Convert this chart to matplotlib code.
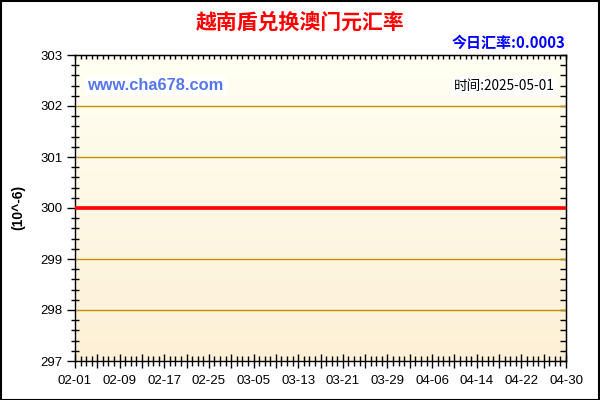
import matplotlib
matplotlib.use("Agg")
import matplotlib.pyplot as plt
import matplotlib.dates as mdates
from matplotlib.ticker import MultipleLocator, FixedLocator, FuncFormatter
import numpy as np
import pandas as pd

plt.rcParams['font.family'] = ['Liberation Sans', 'Noto Sans CJK SC', 'DejaVu Sans']

title = "越南盾兑换澳门元汇率"
rate_text = "今日汇率:0.0003"
site_text = "www.cha678.com"
time_text = "时间:2025-05-01"
ylabel = "(10^-6)"

start_date = "2025-02-01"
end_date = "2025-04-30"
values = [
    300, 300, 300, 300, 300, 300, 300, 300, 300, 300,
    300, 300, 300, 300, 300, 300, 300, 300, 300, 300,
    300, 300, 300, 300, 300, 300, 300, 300, 300, 300,
    300, 300, 300, 300, 300, 300, 300, 300, 300, 300,
    300, 300, 300, 300, 300, 300, 300, 300, 300, 300,
    300, 300, 300, 300, 300, 300, 300, 300, 300, 300,
    300, 300, 300, 300, 300, 300, 300, 300, 300, 300,
    300, 300, 300, 300, 300, 300, 300, 300, 300, 300,
    300, 300, 300, 300, 300, 300, 300, 300, 300,
]
y_ticks = [297, 298, 299, 300, 301, 302, 303]
grid_levels = [298, 299, 301, 302]

dates = pd.date_range(start_date, end_date, freq="D")

W, H = 600, 400
fig = plt.figure(figsize=(6, 4), dpi=100)
fig.patch.set_facecolor("white")
fig.add_artist(plt.Rectangle((0.5 / W, 0.5 / H), 1 - 1.5 / W, 1 - 1.5 / H,
                             transform=fig.transFigure, fill=False,
                             edgecolor="black", linewidth=1.5))

left, right, top, bottom = 75, 566, 55, 361
ax = fig.add_axes([left / W, 1 - bottom / H, (right - left) / W, (bottom - top) / H])

x0 = mdates.date2num(dates[0])
x1 = mdates.date2num(dates[-1])
ax.set_xlim(x0, x1)
ax.set_ylim(y_ticks[0], y_ticks[-1])

grad = np.linspace(0, 1, 256).reshape(-1, 1)
top_c = np.array([255, 255, 243]) / 255
bot_c = np.array([253, 240, 214]) / 255
img = top_c[None, None, :] * (1 - grad[:, :, None]) + bot_c[None, None, :] * grad[:, :, None]
ax.imshow(img, extent=[x0, x1, y_ticks[0], y_ticks[-1]], aspect="auto",
          origin="upper", zorder=0)

for g in grid_levels:
    ax.axhline(g, color="#C39200", linewidth=1.0, zorder=1)

ax.plot(dates, values, color="#FF0000", linewidth=2.6, zorder=3,
        solid_capstyle="butt")

major_nums = list(mdates.date2num(dates[::4]))
label_nums = set(np.round(mdates.date2num(dates[::8]), 3))


def fmt(v, pos):
    if round(v, 3) in label_nums:
        return mdates.num2date(v).strftime("%m-%d")
    return ""


ax.xaxis.set_major_locator(FixedLocator(major_nums))
ax.xaxis.set_minor_locator(FixedLocator(mdates.date2num(dates)))
ax.xaxis.set_major_formatter(FuncFormatter(fmt))
ax.yaxis.set_major_locator(FixedLocator(y_ticks))
ax.yaxis.set_minor_locator(MultipleLocator(0.2))

ax.tick_params(axis="x", which="major", direction="inout", length=10, width=1,
               labelsize=9.5, pad=5, top=False)
ax.tick_params(axis="x", which="minor", direction="inout", length=7, width=1, top=False)
ax.tick_params(axis="y", which="major", direction="out", length=6, width=1,
               labelsize=9.5, pad=3)
ax.tick_params(axis="y", which="minor", direction="inout", length=6, width=1)

sec = ax.secondary_xaxis("top")
sec.xaxis.set_major_locator(FixedLocator(mdates.date2num(dates)))
sec.tick_params(axis="x", which="major", direction="in", length=3, width=1,
                labeltop=False)
sec.xaxis.set_minor_locator(FixedLocator([]))
secr = ax.secondary_yaxis("right")
secr.yaxis.set_major_locator(MultipleLocator(0.2))
secr.tick_params(axis="y", which="major", direction="in", length=4, width=1,
                 labelright=False)
secr.yaxis.set_minor_locator(FixedLocator([]))

for s in ax.spines.values():
    s.set_linewidth(1)
    s.set_color("black")

fig.text(300 / W, 1 - 22 / H, title, ha="center", va="center", color="#FF0000",
         fontsize=15, fontweight="bold", family=["Noto Sans CJK SC", "DejaVu Sans"])
fig.text(565 / W, 1 - 43 / H, rate_text, ha="right", va="center", color="#0000FF",
         fontsize=10.8, fontweight="bold", family=["Noto Sans CJK SC", "DejaVu Sans"])
fig.text(18 / W, 1 - 207 / H, ylabel, ha="center", va="center", rotation=90,
         fontsize=10, fontweight="bold", color="black")
ax.text(0.025, 0.9, site_text, transform=ax.transAxes, ha="left", va="center",
        color="#5577EE", fontsize=11.8, fontweight="bold", zorder=4,
        bbox=dict(facecolor="white", edgecolor="none", pad=1.5))
ax.text(0.978, 0.9, time_text, transform=ax.transAxes, ha="right", va="center",
        color="black", fontsize=9.8, zorder=4,
        family=["Noto Sans CJK SC", "DejaVu Sans"],
        bbox=dict(facecolor="white", edgecolor="none", pad=1.5))

fig.savefig("out.png", dpi=100)
